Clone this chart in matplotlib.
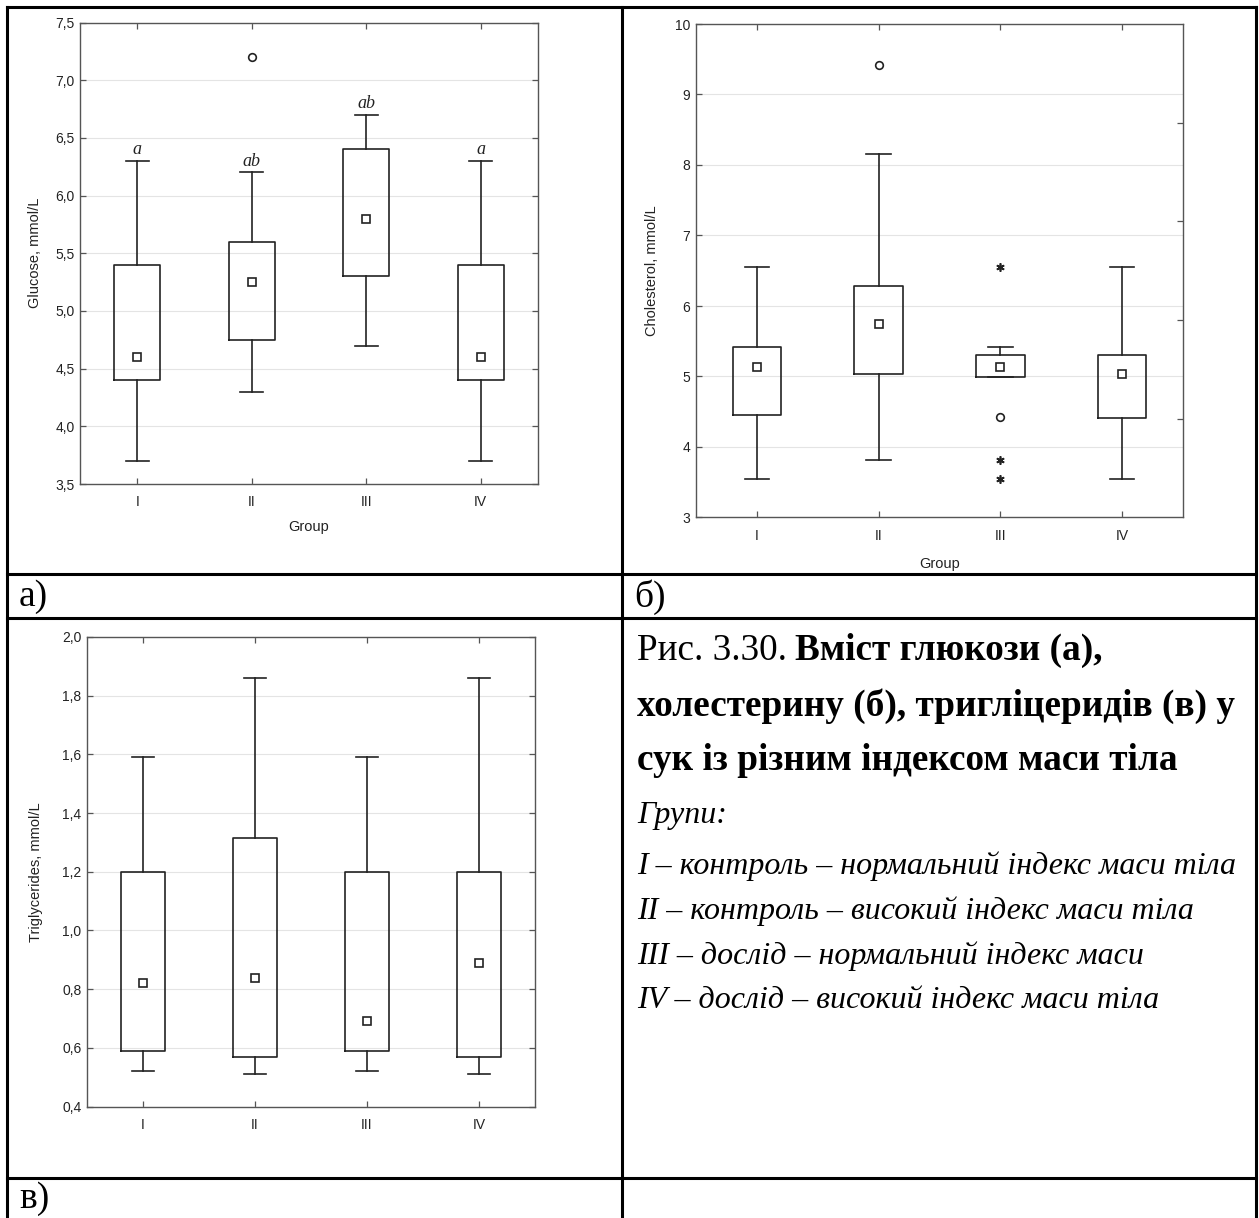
import matplotlib
matplotlib.use('Agg')
import matplotlib.pyplot as plt
from matplotlib.lines import Line2D
import numpy as np

W, H = 1259, 1218
plt.rcParams['font.family'] = ['Liberation Sans', 'DejaVu Sans']

groups = ['I', 'II', 'III', 'IV']

# Glucose (a)
glu_min = [3.7, 4.3, 4.7, 3.7]
glu_q1 = [4.4, 4.75, 5.3, 4.4]
glu_med = [4.6, 5.25, 5.8, 4.6]
glu_q3 = [5.4, 5.6, 6.4, 5.4]
glu_max = [6.3, 6.2, 6.7, 6.3]
glu_out_grp = ['II']
glu_out_val = [7.2]
glu_letters = ['a', 'ab', 'ab', 'a']
glu_ticks = [3.5, 4.0, 4.5, 5.0, 5.5, 6.0, 6.5, 7.0, 7.5]
glu_ticklabels = ['3,5', '4,0', '4,5', '5,0', '5,5', '6,0', '6,5', '7,0', '7,5']

# Cholesterol (б)
chol_min = [3.55, 3.82, 4.99, 3.55]
chol_q1 = [4.46, 5.03, 4.99, 4.41]
chol_med = [5.13, 5.75, 5.13, 5.04]
chol_q3 = [5.42, 6.29, 5.30, 5.30]
chol_max = [6.56, 8.15, 5.42, 6.56]
chol_out_grp = ['II', 'III']
chol_out_val = [9.42, 4.43]
chol_ext_grp = ['III', 'III', 'III']
chol_ext_val = [6.55, 3.82, 3.55]
chol_ticks = [3, 4, 5, 6, 7, 8, 9, 10]
chol_ticklabels = ['3', '4', '5', '6', '7', '8', '9', '10']
chol_right_ticks = [4.4, 5.8, 7.2, 8.6]

# Triglycerides (в)
tg_min = [0.52, 0.51, 0.52, 0.51]
tg_q1 = [0.59, 0.57, 0.59, 0.57]
tg_med = [0.82, 0.837, 0.69, 0.89]
tg_q3 = [1.20, 1.316, 1.20, 1.20]
tg_max = [1.59, 1.86, 1.59, 1.86]
tg_ticks = [0.4, 0.6, 0.8, 1.0, 1.2, 1.4, 1.6, 1.8, 2.0]
tg_ticklabels = ['0,4', '0,6', '0,8', '1,0', '1,2', '1,4', '1,6', '1,8', '2,0']

caption_prefix = 'Рис. 3.30.'
caption_bold = ['Вміст глюкози (а),',
                'холестерину (б), тригліцеридів (в) у',
                'сук із різним індексом маси тіла']
legend_title = 'Групи:'
legend_lines = ['I – контроль – нормальний індекс маси тіла',
                'II – контроль – високий індекс маси тіла',
                'III – дослід – нормальний індекс маси',
                'IV – дослід – високий індекс маси тіла']
panel_labels = ['а)', 'б)', 'в)']

fig = plt.figure(figsize=(W / 100, H / 100), dpi=100)
fig.patch.set_facecolor('white')


def fx(px):
    return px / W


def fy(py):
    return 1 - py / H


def axes_px(left, top, right, bottom):
    return fig.add_axes([fx(left), fy(bottom), (right - left) / W, (bottom - top) / H])


BOXC = '#222222'
SPC = '#555555'


def boxplot(ax, mins, q1s, meds, q3s, maxs, ticks, ticklabels, ylim, ylabel,
            xlabel=None, right_ticks=None):
    pos = np.arange(1, len(groups) + 1)
    stats = []
    for i in range(len(groups)):
        stats.append(dict(med=meds[i], q1=q1s[i], q3=q3s[i], whislo=mins[i],
                          whishi=maxs[i], fliers=[]))
    ax.bxp(stats, positions=pos, widths=0.4, showfliers=False,
           boxprops=dict(color=BOXC, linewidth=1.2),
           whiskerprops=dict(color=BOXC, linewidth=1.2),
           capprops=dict(color=BOXC, linewidth=1.2),
           medianprops=dict(linewidth=0),
           capwidths=0.2, zorder=3)
    ax.plot(pos, meds, linestyle='none', marker='s', markersize=5.5,
            markerfacecolor='white', markeredgecolor=BOXC, markeredgewidth=1.2, zorder=4)
    ax.set_xlim(0.5, len(groups) + 0.5)
    ax.set_ylim(*ylim)
    ax.set_xticks(pos)
    ax.set_xticklabels(groups)
    ax.set_yticks(ticks)
    ax.set_yticklabels(ticklabels)
    ax.grid(axis='y', color='#e4e4e4', linewidth=0.8, zorder=0)
    ax.set_axisbelow(True)
    for s in ax.spines.values():
        s.set_color(SPC)
        s.set_linewidth(1.0)
    ax.tick_params(direction='in', length=4, width=0.9, color=SPC,
                   labelsize=10, labelcolor='#222222', top=True,
                   right=right_ticks is None)
    ax.tick_params(axis='x', pad=8)
    ax.tick_params(axis='y', pad=4)
    ax.set_ylabel(ylabel, fontsize=10.5, color='#222222')
    if xlabel:
        ax.set_xlabel(xlabel, fontsize=10.5, color='#222222')
    if right_ticks is not None:
        ax2 = ax.twinx()
        ax2.set_ylim(*ylim)
        ax2.set_yticks(right_ticks)
        ax2.set_yticklabels([])
        ax2.tick_params(direction='in', length=4, width=0.9, color=SPC)
        for s in ax2.spines.values():
            s.set_visible(False)
    return pos


# Panel a
ax_a = axes_px(80, 22.5, 538, 484)
pos = boxplot(ax_a, glu_min, glu_q1, glu_med, glu_q3, glu_max, glu_ticks,
              glu_ticklabels, (3.5, 7.5), 'Glucose, mmol/L', 'Group')
ax_a.plot([groups.index(g) + 1 for g in glu_out_grp], glu_out_val, linestyle='none',
          marker='o', markersize=5.5, markerfacecolor='white',
          markeredgecolor=BOXC, markeredgewidth=1.2, zorder=4)
for p, mx, lt in zip(pos, glu_max, glu_letters):
    ax_a.annotate(lt, xy=(p, mx), xytext=(0, 5), textcoords='offset points',
                  ha='center', va='baseline', fontsize=13, style='italic',
                  family='Liberation Serif', color='#222222')
ax_a.yaxis.set_label_coords(-0.083, 0.5)
ax_a.xaxis.set_label_coords(0.5, -0.078)

# Panel б
ax_b = axes_px(696, 24, 1183, 517.5)
boxplot(ax_b, chol_min, chol_q1, chol_med, chol_q3, chol_max, chol_ticks,
        chol_ticklabels, (3, 10), 'Cholesterol, mmol/L', 'Group',
        right_ticks=chol_right_ticks)
ax_b.plot([groups.index(g) + 1 for g in chol_out_grp], chol_out_val, linestyle='none',
          marker='o', markersize=5.5, markerfacecolor='white',
          markeredgecolor=BOXC, markeredgewidth=1.2, zorder=4)
ax_b.plot([groups.index(g) + 1 for g in chol_ext_grp], chol_ext_val, linestyle='none',
          marker=(6, 2, 0), markersize=6, markeredgecolor=BOXC,
          markeredgewidth=1.2, zorder=4)
ax_b.yaxis.set_label_coords(-0.076, 0.5)
ax_b.xaxis.set_label_coords(0.5, -0.08)

# Panel в
ax_c = axes_px(87, 637, 535, 1106.5)
boxplot(ax_c, tg_min, tg_q1, tg_med, tg_q3, tg_max, tg_ticks, tg_ticklabels,
        (0.4, 2.0), 'Triglycerides, mmol/L')
ax_c.yaxis.set_label_coords(-0.098, 0.5)

# Table lines
LW = 2.2


def hline(y, x0, x1):
    fig.add_artist(Line2D([fx(x0), fx(x1)], [fy(y), fy(y)], color='black', linewidth=LW))


def vline(x, y0, y1):
    fig.add_artist(Line2D([fx(x), fx(x)], [fy(y0), fy(y1)], color='black', linewidth=LW))


hline(7, 7, 1256)
hline(574, 7, 1256)
hline(618, 7, 1256)
hline(1178, 7, 1256)
vline(7, 7, 1218)
vline(622, 7, 1218)
vline(1256, 7, 1218)

# Panel labels
serif = 'Liberation Serif'
PL = 27
fig.text(fx(19), fy(597), panel_labels[0], fontsize=PL, family=serif, va='center', ha='left')
fig.text(fx(634), fy(597), panel_labels[1], fontsize=PL, family=serif, va='center', ha='left')
fig.text(fx(19), fy(1199), panel_labels[2], fontsize=PL, family=serif, va='center', ha='left')

# Caption
CAP = 26.8
t1 = fig.text(fx(637), fy(651), caption_prefix, fontsize=CAP, family=serif,
              va='center', ha='left')
fig.canvas.draw()
fig.add_artist(plt.Annotation(caption_bold[0], xy=(1, 0), xycoords=t1,
                              xytext=(6, 0), textcoords='offset points',
                              fontsize=CAP, family=serif, weight='bold',
                              va='bottom', ha='left'))
fig.text(fx(637), fy(706), caption_bold[1], fontsize=CAP, family=serif,
         weight='bold', va='center', ha='left')
fig.text(fx(637), fy(760), caption_bold[2], fontsize=CAP, family=serif,
         weight='bold', va='center', ha='left')
IT = 23
fig.text(fx(637), fy(815), legend_title, fontsize=IT, family=serif,
         style='italic', va='center', ha='left')
for i, line in enumerate(legend_lines):
    fig.text(fx(637), fy(866 + 45 * i), line, fontsize=IT, family=serif,
             style='italic', va='center', ha='left')

fig.savefig('out.png', dpi=100)
